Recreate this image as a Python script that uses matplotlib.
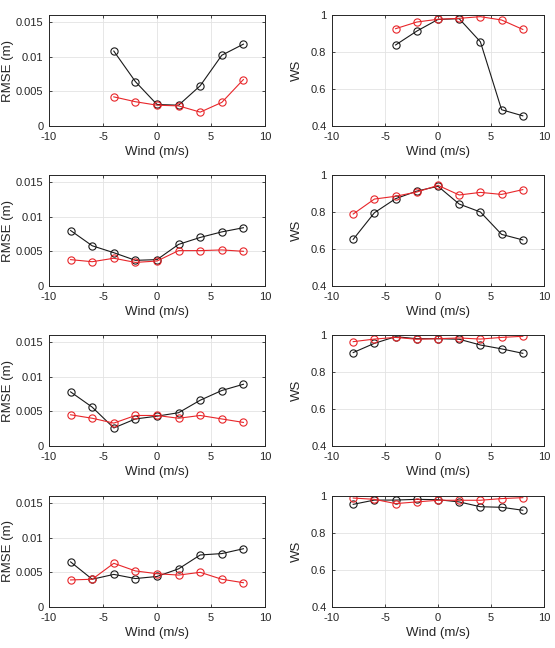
import matplotlib
matplotlib.use("Agg")
import matplotlib.pyplot as plt
import numpy as np

plt.rcParams['font.family'] = ['Liberation Sans', 'DejaVu Sans']
plt.rcParams['axes.unicode_minus'] = False

wind_r1 = [-4, -2, 0, 2, 4, 6, 8]
wind = [-8, -6, -4, -2, 0, 2, 4, 6, 8]

rmse_black_1 = [0.0108, 0.0064, 0.0031, 0.0030, 0.0058, 0.0102, 0.0118]
rmse_red_1 = [0.0042, 0.0035, 0.0030, 0.0029, 0.0020, 0.0034, 0.0067]
ws_black_1 = [0.838, 0.913, 0.976, 0.980, 0.855, 0.488, 0.455]
ws_red_1 = [0.926, 0.962, 0.977, 0.982, 0.991, 0.973, 0.922]

rmse_black_2 = [0.0080, 0.0058, 0.0048, 0.0037, 0.0038, 0.0060, 0.0070, 0.0078, 0.0084]
rmse_red_2 = [0.0038, 0.0035, 0.0040, 0.0034, 0.0036, 0.0051, 0.0051, 0.0052, 0.0050]
ws_black_2 = [0.652, 0.796, 0.872, 0.913, 0.939, 0.843, 0.800, 0.679, 0.649]
ws_red_2 = [0.789, 0.870, 0.885, 0.908, 0.944, 0.892, 0.906, 0.895, 0.921]

rmse_black_3 = [0.0078, 0.0056, 0.0026, 0.0039, 0.0043, 0.0048, 0.0066, 0.0080, 0.0089]
rmse_red_3 = [0.0045, 0.0040, 0.0033, 0.0044, 0.0044, 0.0040, 0.0044, 0.0039, 0.0034]
ws_black_3 = [0.905, 0.955, 0.991, 0.980, 0.980, 0.977, 0.946, 0.925, 0.901]
ws_red_3 = [0.964, 0.978, 0.987, 0.977, 0.980, 0.984, 0.978, 0.987, 0.993]

rmse_black_4 = [0.0065, 0.0040, 0.0047, 0.0041, 0.0044, 0.0055, 0.0075, 0.0077, 0.0084]
rmse_red_4 = [0.0039, 0.0040, 0.0063, 0.0052, 0.0048, 0.0046, 0.0050, 0.0040, 0.0035]
ws_black_4 = [0.955, 0.978, 0.978, 0.982, 0.980, 0.968, 0.942, 0.939, 0.923]
ws_red_4 = [0.989, 0.982, 0.959, 0.968, 0.977, 0.977, 0.977, 0.986, 0.991]

rows = [
    (wind_r1, rmse_black_1, rmse_red_1, ws_black_1, ws_red_1),
    (wind, rmse_black_2, rmse_red_2, ws_black_2, ws_red_2),
    (wind, rmse_black_3, rmse_red_3, ws_black_3, ws_red_3),
    (wind, rmse_black_4, rmse_red_4, ws_black_4, ws_red_4),
]

W, H = 555, 648
fig = plt.figure(figsize=(W / 100, H / 100), dpi=100)

tops = [15, 175, 335, 496]
ah = 111
lefts = [49, 332]
aw = [216, 212]

axcol = '#262626'

def style(ax):
    ax.set_xlim(-10, 10)
    ax.set_xticks([-10, -5, 0, 5, 10])
    ax.grid(True, color='#e3e3e3', linewidth=0.6)
    ax.set_axisbelow(True)
    ax.tick_params(direction='in', length=2.5, width=0.6, labelsize=8, colors=axcol,
                   top=True, right=True, pad=4)
    for s in ax.spines.values():
        s.set_color(axcol)
        s.set_linewidth(0.7)
    ax.set_xlabel('Wind (m/s)', fontsize=9.5, color=axcol, labelpad=3)

def plot_pair(ax, x, b, r):
    ax.plot(x, b, '-o', color='#1a1a1a', mfc='none', mec='#1a1a1a', ms=5.2, lw=0.8, mew=0.8)
    ax.plot(x, r, '-o', color='#e8262a', mfc='none', mec='#e8262a', ms=5.2, lw=0.8, mew=0.8)

for i, (x, rb, rr, wb, wr) in enumerate(rows):
    y0 = 1 - (tops[i] + ah) / H
    axl = fig.add_axes([lefts[0] / W, y0, aw[0] / W, ah / H])
    plot_pair(axl, x, rb, rr)
    style(axl)
    axl.set_ylim(0, 0.016)
    axl.set_yticks([0, 0.005, 0.01, 0.015])
    axl.set_yticklabels(['0', '0.005', '0.01', '0.015'])
    axl.set_ylabel('RMSE (m)', fontsize=9.5, color=axcol, labelpad=1)

    axr = fig.add_axes([lefts[1] / W, y0, aw[1] / W, ah / H])
    plot_pair(axr, x, wb, wr)
    style(axr)
    axr.set_ylim(0.4, 1.0)
    axr.set_yticks([0.4, 0.6, 0.8, 1.0])
    axr.set_yticklabels(['0.4', '0.6', '0.8', '1'])
    axr.set_ylabel('WS', fontsize=9.5, color=axcol, labelpad=6)

fig.savefig('out.png', dpi=100)
